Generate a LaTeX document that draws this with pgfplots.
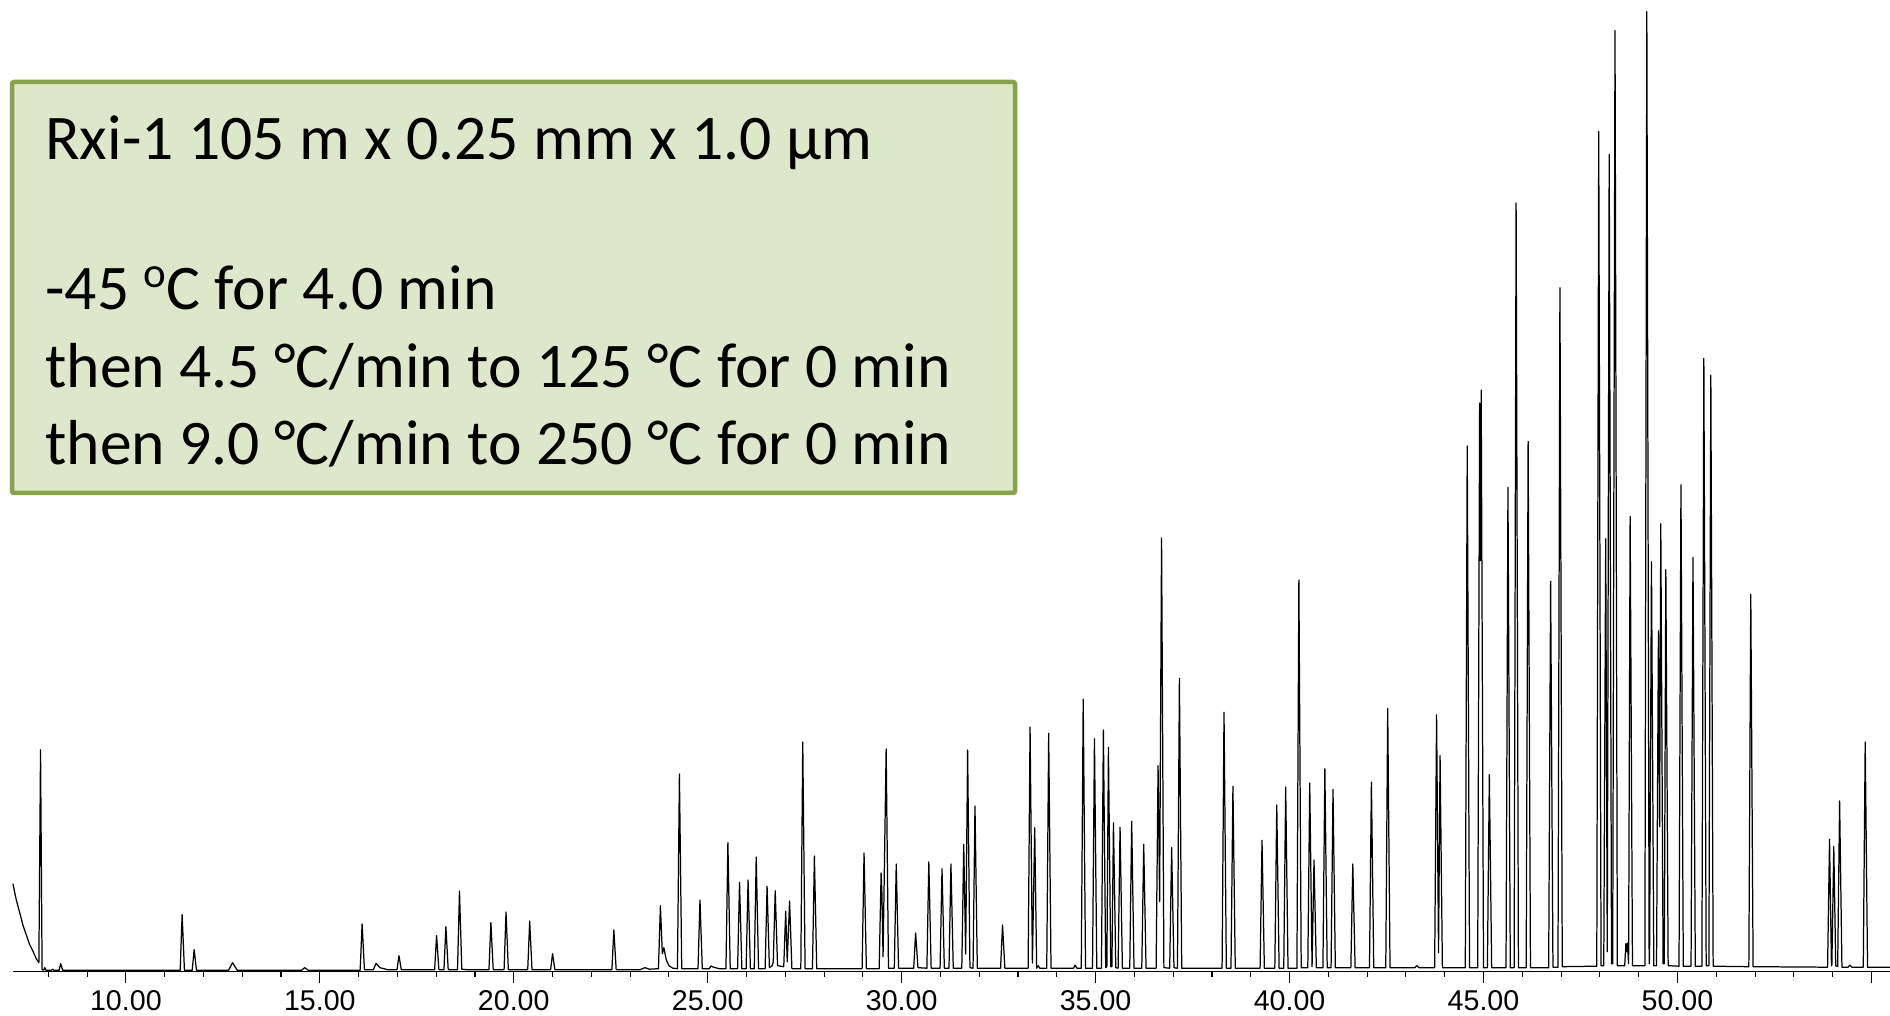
\documentclass[border=0pt]{standalone}
\usepackage{fontspec}
\setmainfont{Carlito}
\newfontfamily\arialf{Liberation Sans}
\usepackage{pgfplots}
\pgfplotsset{compat=1.18}
\definecolor{boxfill}{RGB}{221,231,201}
\definecolor{boxborder}{RGB}{137,163,75}
\begin{document}
\begin{tikzpicture}
\useasboundingbox (0,0) rectangle (945pt,508pt);
\begin{axis}[
  at={(6.5pt,22.15pt)}, anchor=south west,
  scale only axis, width=938.9pt, height=485.85pt,
  xmin=7.09, xmax=55.5, ymin=0, ymax=971.7,
  clip=false,
  axis x line=bottom, axis y line=none,
  axis line style={-, line width=0.75pt, black},
  xtick={10,15,20,25,30,35,40,45,50,55},
  xticklabels={10.00,15.00,20.00,25.00,30.00,35.00,40.00,45.00,50.00,{}},
  minor xtick={8,9,11,12,13,14,16,17,18,19,21,22,23,24,26,27,28,29,31,32,33,34,36,37,38,39,41,42,43,44,46,47,48,49,51,52,53,54},
  tick align=outside,
  major tick length=5.5pt, minor tick length=2.5pt,
  every tick/.style={black, line width=0.55pt},
  xticklabel style={font=\arialf\fontsize{14.3}{16}\selectfont, inner sep=3.5pt},
]
\addplot[black, line width=0.62pt, line join=round] table[row sep=\\] {
t y\\
7.09 88\\ 7.14 78\\ 7.18 71\\ 7.27 58\\ 7.35 46\\ 7.44 36\\ 7.52 27\\ 7.61 20\\ 7.69 13\\ 7.757 9\\
7.80 222\\ 7.84 2\\ 7.88 1.5\\ 7.91 4\\ 7.94 1.5\\ 8.08 1.5\\ 8.11 2.5\\ 8.14 1.5\\ 8.28 1.5\\ 8.32 8\\ 8.37 1.5\\
11.40 1.5\\ 11.45 57\\ 11.51 1.5\\ 11.71 1.5\\ 11.76 22\\ 11.82 1.5\\ 12.65 1.5\\ 12.75 9\\ 12.87 1.5\\
14.53 1.5\\ 14.61 4\\ 14.70 1.5\\ 16.04 1.5\\ 16.09 47.7\\ 16.15 2\\ 16.38 2\\ 16.45 8.4\\ 16.55 4\\ 16.75 2\\
16.99 2\\ 17.04 16\\ 17.10 2\\ 17.96 2\\ 18.01 36\\ 18.07 2\\ 18.20 2\\ 18.25 45\\ 18.31 2\\ 18.55 2\\ 18.60 80.7\\ 18.66 2.5\\ 18.80 2\\
19.36 2\\ 19.41 49\\ 19.47 2\\ 19.75 2\\ 19.80 59.7\\ 19.86 2\\ 20.36 2\\ 20.41 50.7\\ 20.47 2\\ 20.95 2\\ 21.00 18\\ 21.06 2\\
22.53 2\\ 22.58 41.7\\ 22.64 2\\ 23.25 2\\ 23.38 4\\ 23.50 2.5\\ 23.73 3\\ 23.78 66\\ 23.83 18\\ 23.87 24\\ 23.93 12\\ 24.00 6\\ 24.10 3.5\\
24.22 3\\ 24.27 197.7\\ 24.33 3\\ 24.75 3\\ 24.80 71.7\\ 24.86 3\\ 25.04 3\\ 25.08 5.7\\ 25.15 4.5\\ 25.30 3\\
25.47 3\\ 25.52 129\\ 25.58 3\\ 25.77 3\\ 25.82 89.4\\ 25.88 3\\ 25.99 3\\ 26.04 91.7\\ 26.10 3\\ 26.20 3\\ 26.25 114.7\\ 26.31 3\\
26.48 3\\ 26.53 85.4\\ 26.59 4\\ 26.66 6\\ 26.69 10\\ 26.74 81\\ 26.80 6\\ 26.96 5\\ 27.01 60.4\\ 27.05 10\\ 27.11 70.7\\ 27.17 3\\
27.40 3\\ 27.45 229.7\\ 27.51 3\\ 27.70 3\\ 27.75 115.7\\ 27.81 3\\ 28.98 3\\ 29.03 118.7\\ 29.09 3\\
29.42 3\\ 29.47 98.7\\ 29.49 79\\ 29.52 15\\ 29.60 222.7\\ 29.66 3.5\\ 29.81 3.5\\ 29.86 107.7\\ 29.92 3.5\\
30.31 3.5\\ 30.36 38.7\\ 30.42 4\\ 30.65 3.5\\ 30.70 109.7\\ 30.76 3.5\\ 30.99 3.5\\ 31.04 103\\ 31.10 3.5\\ 31.22 3.5\\ 31.27 107.7\\ 31.33 3.5\\
31.55 3.5\\ 31.60 127.4\\ 31.65 17.7\\ 31.70 221.7\\ 31.76 4\\ 31.84 3.5\\ 31.89 165.7\\ 31.95 3.5\\ 32.55 3.5\\ 32.60 46.7\\ 32.66 3.5\\
33.26 3.5\\ 33.31 244.4\\ 33.37 8.7\\ 33.43 144\\ 33.48 3.5\\ 33.52 6\\ 33.56 3.5\\ 33.74 3.5\\ 33.79 238.4\\ 33.85 3.5\\
34.43 3.5\\ 34.47 6.5\\ 34.52 3.5\\ 34.63 3.5\\ 34.68 272.4\\ 34.74 3.5\\ 34.92 3.5\\ 34.97 233\\ 35.03 3.5\\
35.15 3.5\\ 35.20 241.7\\ 35.26 4\\ 35.29 5\\ 35.33 224.4\\ 35.39 5\\ 35.42 5\\ 35.46 149\\ 35.52 4\\ 35.58 3.5\\ 35.63 144.4\\ 35.69 3.5\\
35.88 3.5\\ 35.93 150.4\\ 35.99 3.5\\ 36.19 3.5\\ 36.24 127.4\\ 36.30 3.5\\ 36.56 3.5\\ 36.61 206\\ 36.65 70\\ 36.70 433.7\\ 36.76 4\\
36.91 3.5\\ 36.96 124\\ 37.02 4\\ 37.11 3.5\\ 37.16 293.4\\ 37.22 3.5\\ 38.26 3.5\\ 38.31 259.4\\ 38.37 3.5\\ 38.49 3.5\\ 38.54 185.4\\ 38.60 3.5\\
39.24 3.5\\ 39.29 131.4\\ 39.35 3.5\\ 39.62 3.5\\ 39.67 166.7\\ 39.73 3.5\\ 39.85 3.5\\ 39.90 184.7\\ 39.96 3.5\\
40.19 3.5\\ 40.24 391.7\\ 40.30 4\\ 40.47 4\\ 40.52 188.7\\ 40.58 5\\ 40.63 111.7\\ 40.69 4\\ 40.86 4\\ 40.91 203\\ 40.97 4\\
41.07 4\\ 41.12 182.3\\ 41.18 4\\ 41.58 4\\ 41.63 107.7\\ 41.69 4\\ 42.06 4\\ 42.11 189.5\\ 42.17 4\\ 42.48 4\\ 42.53 263.3\\ 42.59 4\\
43.23 4\\ 43.28 6\\ 43.34 4\\ 43.74 4\\ 43.79 256.9\\ 43.84 19\\ 43.88 216\\ 43.94 4\\ 44.53 4\\ 44.58 525.8\\ 44.64 4\\
44.85 4\\ 44.90 568.6\\ 44.92 411\\ 44.94 581.6\\ 45.00 4\\ 45.10 4\\ 45.15 197\\ 45.21 4\\ 45.58 4\\ 45.63 484.3\\ 45.69 4\\
45.79 4\\ 45.84 768.8\\ 45.90 4\\ 46.10 4\\ 46.15 530.3\\ 46.21 4\\ 46.68 4\\ 46.73 390.4\\ 46.79 4.5\\ 46.92 4.5\\ 46.97 684\\ 47.03 5\\
47.92 5.5\\ 47.97 840.1\\ 48.03 6\\ 48.10 6\\ 48.15 433\\ 48.19 20\\ 48.24 817.5\\ 48.30 8\\ 48.33 8\\ 48.39 941.2\\ 48.45 6\\
48.64 6\\ 48.67 28\\ 48.69 20\\ 48.71 28.7\\ 48.74 8\\ 48.78 455.2\\ 48.84 6\\ 49.16 6\\ 49.21 960\\ 49.27 8\\ 49.28 8\\ 49.33 410\\ 49.39 6\\
49.46 6\\ 49.51 341\\ 49.54 145\\ 49.57 448\\ 49.63 8\\ 49.66 8\\ 49.70 402\\ 49.76 6\\ 50.04 5.5\\ 50.09 486.9\\ 50.15 5.5\\
50.35 5.5\\ 50.40 414.3\\ 50.46 5.5\\ 50.63 5.5\\ 50.68 613.3\\ 50.74 6\\ 50.81 6\\ 50.86 596.5\\ 50.92 5.5\\ 51.84 5\\ 51.89 377.4\\ 51.95 5\\
53.87 4.5\\ 53.92 132.4\\ 53.97 6\\ 53.98 6\\ 54.03 125.3\\ 54.08 6\\ 54.13 5\\ 54.18 170.7\\ 54.24 4.5\\ 54.40 4.5\\ 54.44 6.5\\ 54.50 4.5\\
54.79 4.5\\ 54.84 229.7\\ 54.90 4.5\\ 55.50 4.5\\
};
\end{axis}
\draw[line width=2.25pt, draw=boxborder, fill=boxfill, rounded corners=1pt] (6pt,261.5pt) rectangle (507.5pt,467pt);
\begin{scope}[every node/.style={anchor=base west, inner sep=0pt, font=\fontsize{31.8}{38}\selectfont}]
\node at (22.5pt,428.25pt) {Rxi-1 105 m x 0.25 mm x 1.0 μm};
\node at (22.5pt,353pt) {-45 \raisebox{11pt}{\fontsize{21.5}{22}\selectfont o}C for 4.0 min};
\node at (22.5pt,314pt) {then 4.5 °C/min to 125 °C for 0 min};
\node at (22.5pt,275.5pt) {then 9.0 °C/min to 250 °C for 0 min};
\end{scope}
\end{tikzpicture}
\end{document}
